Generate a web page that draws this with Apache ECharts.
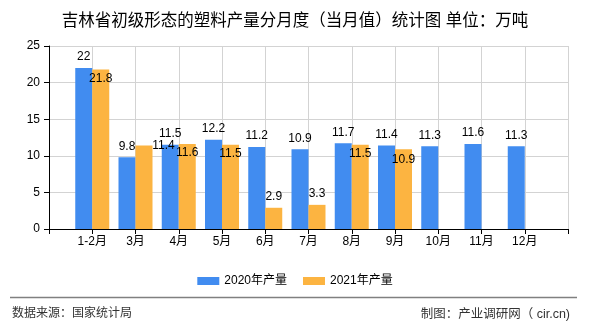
<!DOCTYPE html>
<html>
<head>
<meta charset="utf-8">
<script src="https://cdn.jsdelivr.net/npm/echarts@6/dist/echarts.min.js"></script>
<style>
  html, body { margin: 0; padding: 0; background: #fff; }
  #chart { width: 590px; height: 330px; }
</style>
</head>
<body>
<div id="chart"></div>
<script>
// Monthly output of primary-form plastics in Jilin (10k tonnes)
var categories = ['1-2月', '3月', '4月', '5月', '6月', '7月', '8月', '9月', '10月', '11月', '12月'];
var output2020 = [22, 9.8, 11.5, 12.2, 11.2, 10.9, 11.7, 11.4, 11.3, 11.6, 11.3];
var output2021 = [21.8, 11.4, 11.6, 11.5, 2.9, 3.3, 11.5, 10.9];
var yTicks = [0, 5, 10, 15, 20, 25];
var seriesNames = ['2020年产量', '2021年产量'];

// label nudges for the 2021 values so they do not collide with the 2020 labels
var nudge2021 = [[0, 20], [19.5, 11.5], [0, 20], [0, 20], [0, 0], [0, 0], [0, 20], [0, 21]];

var FONT = '"Liberation Sans", "Noto Sans CJK SC", sans-serif';

// the axis has an empty slot at each end so the month groups sit on grid lines
var axisData = [''].concat(categories, ['']);
function pad(values) {
  var out = ['-'];
  for (var i = 0; i < categories.length; i++) {
    out.push(i < values.length ? values[i] : '-');
  }
  out.push('-');
  return out;
}

var data2020 = pad(output2020);
var data2021 = pad(output2021).map(function (v, i) {
  var k = i - 1;
  if (v === '-' || k < 0 || k >= nudge2021.length) return v;
  return { value: v, label: { offset: nudge2021[k] } };
});

var chart = echarts.init(document.getElementById('chart'), null, { renderer: 'canvas' });
chart.setOption({
  animation: false,
  backgroundColor: '#fff',
  textStyle: { fontFamily: FONT },
  title: {
    text: '吉林省初级形态的塑料产量分月度（当月值）统计图 单位：万吨',
    left: 'center',
    top: 8,
    textStyle: { fontSize: 16.5, fontWeight: 'normal', color: '#000', fontFamily: FONT }
  },
  legend: {
    data: seriesNames,
    left: 'center',
    top: 270,
    icon: 'rect',
    itemWidth: 22,
    itemHeight: 8,
    itemGap: 16,
    textStyle: { fontSize: 12, color: '#000', fontFamily: FONT }
  },
  grid: { left: 49, right: 22, top: 46, bottom: 101 },
  xAxis: {
    type: 'category',
    data: axisData,
    boundaryGap: false,
    axisLine: { lineStyle: { color: '#000', width: 1 } },
    axisTick: { show: true, interval: 0, length: 5, lineStyle: { color: '#000' } },
    axisLabel: { interval: 0, margin: 7, fontSize: 12, color: '#000', fontFamily: FONT },
    splitLine: { show: true, interval: 0, lineStyle: { color: '#d3d3d3', width: 1 } }
  },
  yAxis: {
    type: 'value',
    min: yTicks[0],
    max: yTicks[yTicks.length - 1],
    interval: yTicks[1] - yTicks[0],
    axisLine: { show: true, lineStyle: { color: '#000', width: 1 } },
    axisTick: { show: true, length: 5, lineStyle: { color: '#000' } },
    axisLabel: { margin: 9, fontSize: 12, color: '#000', fontFamily: FONT },
    splitLine: { show: true, lineStyle: { color: '#d3d3d3', width: 1 } }
  },
  series: [
    {
      name: seriesNames[0],
      type: 'bar',
      data: data2020,
      barWidth: 17,
      barGap: '0%',
      itemStyle: { color: '#418CF0' },
      label: { show: true, position: 'top', distance: 5, fontSize: 12, color: '#000', fontFamily: FONT }
    },
    {
      name: seriesNames[1],
      type: 'bar',
      data: data2021,
      barWidth: 17,
      barGap: '0%',
      itemStyle: { color: '#FCB441' },
      label: { show: true, position: 'top', distance: 5, fontSize: 12, color: '#000', fontFamily: FONT }
    }
  ],
  graphic: [
    {
      type: 'line',
      shape: { x1: 10, y1: 297.5, x2: 577, y2: 297.5 },
      style: { stroke: '#808080', lineWidth: 1.5 }
    },
    {
      type: 'text',
      left: 12,
      top: 308,
      style: { text: '数据来源：国家统计局', fill: '#333', font: '12px ' + FONT }
    },
    {
      type: 'text',
      right: 20,
      top: 308,
      style: { text: '制图：产业调研网（ cir.cn)', fill: '#333', font: '12.5px ' + FONT }
    }
  ]
});
</script>
</body>
</html>
